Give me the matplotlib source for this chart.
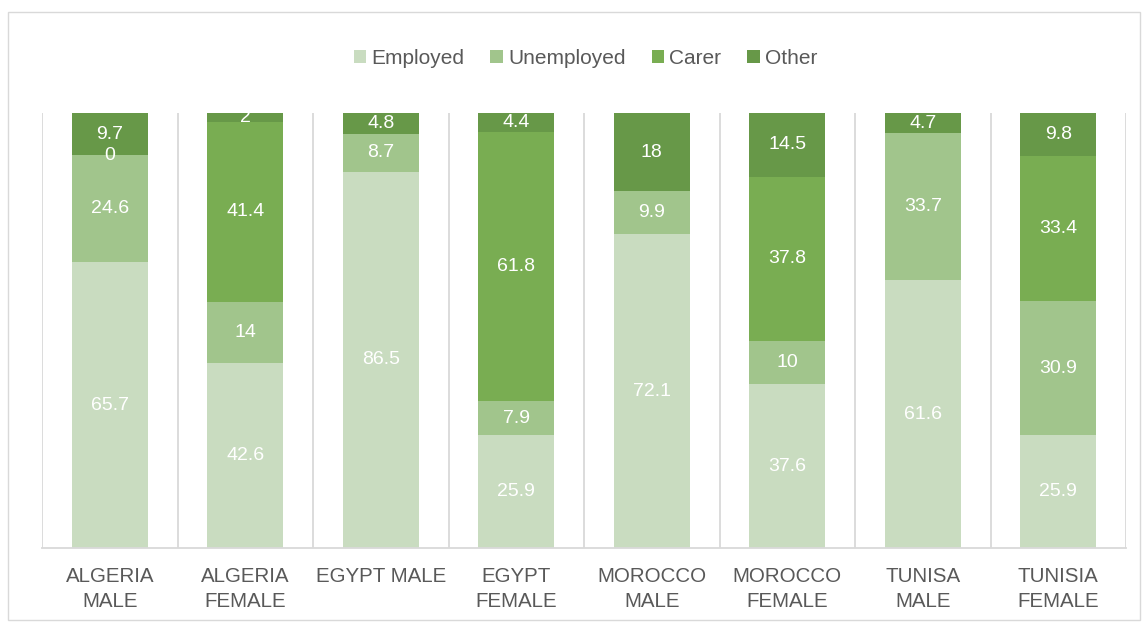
import numpy as np
import matplotlib.pyplot as plt
from matplotlib.patches import Rectangle

plt.rcParams['font.family'] = ['Liberation Sans', 'DejaVu Sans']

# ==========================
# Data
# ==========================
categories = ["ALGERIA\nMALE", "ALGERIA\nFEMALE", "EGYPT MALE", "EGYPT\nFEMALE",
              "MOROCCO\nMALE", "MOROCCO\nFEMALE", "TUNISA\nMALE", "TUNISIA\nFEMALE"]
employed   = [65.7, 42.6, 86.5, 25.9, 72.1, 37.6, 61.6, 25.9]
unemployed = [24.6, 14.0, 8.7, 7.9, 9.9, 10.0, 33.7, 30.9]
carer      = [0.0, 41.4, None, 61.8, None, 37.8, None, 33.4]
other      = [9.7, 2.0, 4.8, 4.4, 18.0, 14.5, 4.7, 9.8]

series = [("Employed", employed, "#C9DCC0"),
          ("Unemployed", unemployed, "#A1C58C"),
          ("Carer", carer, "#79AD52"),
          ("Other", other, "#679848")]

# ==========================
# Plot
# ==========================
fig = plt.figure(figsize=(11.48, 6.24), dpi=100)
fig.patches.append(Rectangle((8 / 1148, 4 / 624), 1132 / 1148, 608 / 624,
                             transform=fig.transFigure, fill=False,
                             edgecolor="#D9D9D9", linewidth=1))
ax = fig.add_axes([42 / 1148, 1 - 548 / 624, 1084 / 1148, 435 / 624])

x = np.arange(len(categories))
width = 0.56
bottom = np.zeros(len(categories))
for name, vals, color in series:
    v = np.array([np.nan if val is None else val for val in vals])
    h = np.nan_to_num(v)
    ax.bar(x, h, width, bottom=bottom, color=color, label=name, zorder=2)
    for xi, b, val in zip(x, bottom, v):
        if not np.isnan(val):
            ax.text(xi, b + val / 2, f"{val:g}", ha="center", va="center",
                    color="white", fontsize=14, zorder=3, clip_on=True)
    bottom += h

ax.set_xlim(-0.5, len(categories) - 0.5)
ax.set_ylim(0, 100)
for b in np.arange(-0.5, len(categories), 1):
    ax.axvline(b, color="#D9D9D9", linewidth=1.3, zorder=1)

for s in ["top", "right", "left"]:
    ax.spines[s].set_visible(False)
ax.spines["bottom"].set_color("#D9D9D9")
ax.spines["bottom"].set_linewidth(1.3)
ax.set_yticks([])
ax.set_xticks(x)
ax.set_xticklabels(categories, fontsize=14.8, color="#595959", linespacing=1.35)
ax.tick_params(axis="x", length=0, pad=14)

leg = fig.legend(loc="center", bbox_to_anchor=(0.51, 1 - 58 / 624), ncol=4,
                 frameon=False, fontsize=15, handlelength=0.6, handleheight=0.6,
                 handletextpad=0.25, columnspacing=1.25)
for t in leg.get_texts():
    t.set_color("#595959")

fig.savefig("out.png", dpi=100)
